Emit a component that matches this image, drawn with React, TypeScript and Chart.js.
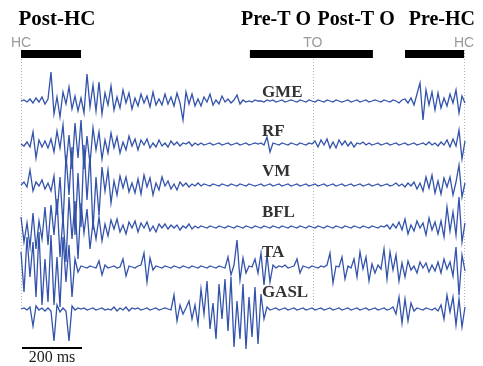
import { useEffect, useRef } from 'react';
import { Chart, registerables } from 'chart.js';

Chart.register(...registerables);

// ---------- data ----------
const SAMPLE_MS = 10; // one sample every 10 ms
const MUSCLES = ['GME', 'RF', 'VM', 'BFL', 'TA', 'GASL'];

// EMG deflections (arbitrary units, + = up), one value every 10 ms
const GME = [
  0, 1, -1, 2, -2, 3, -1, 4, -3, 2,
  29, -13, 4, -16, 9, -3, 14, -8, 5, -10,
  3, -12, 27, -6, 16, -10, 19, -13, 8, -4,
  15, -9, 4, -7, 11, -2, 8, -8, 3, -5,
  7, -2, 5, -6, 9, -4, 2, -4, 7, -3,
  4, -5, 8, -2, -19, 9, -3, 7, -5, 2,
  -5, 4, -1, 7, -4, 1, -3, 5, -1, 2,
  -2, 1, 6, -3, 1, -1, 0, -1, 1, 0,
  0, -1, 1, 0, 1, -1, 0, 1, -1, 0,
  1, 0, -1, 1, 0, -1, 1, 0, -1, 1,
  0, -1, 1, 0, -1, 1, 0, -1, 0, 1,
  -1, 0, 1, -1, 0, 1, -1, 0, 1, 0,
  -1, 1, 0, -1, 1, 0, -2, 1, 2, -2,
  3, -4, 7, 18, -19, 11, -4, 9, -9, 8,
  -7, 3, -5, 7, -2, 11, -12, 5, -2,
];
const RF = [
  0, -2, 2, -3, 12, -14, 4, -3, 3, -4,
  5, -8, 13, -4, 19, -22, 9, -25, 21, -14,
  24, -25, 8, -20, 16, -6, 12, -15, 4, -9,
  11, -4, 7, -9, 2, -6, 8, -2, 5, -6,
  4, -1, 5, -4, 1, -3, 4, -2, 1, -3,
  3, -1, 2, -2, 1, 0, 2, -2, 1, -1,
  1, -1, 0, 1, -1, 0, 1, -1, 0, 1,
  -1, 0, 1, -1, 0, 1, -1, 0, 1, 0,
  1, -1, 7, -8, 1, 0, -1, 1, 0, -1,
  1, 0, -1, 1, 0, -1, 1, 0, 3, -3,
  4, -1, 5, -4, 2, -4, 4, -1, 3, -2,
  2, -3, 1, 0, 2, -1, 1, -1, 0, 1,
  -1, 0, 1, -1, 0, 1, -1, 0, 1, -1,
  0, 1, -1, 0, 1, -1, 2, -1, 1, -2,
  2, -1, 4, -3, 5, -2, 14, -15, 3,
];
const VM = [
  0, 3, -2, 15, -6, 3, -1, 5, -4, 2,
  -6, 9, -30, 8, -40, 30, -10, 38, -50, 12,
  -42, 40, -15, 30, -45, 8, -30, 18, -6, 15,
  -18, 4, -10, 9, -3, 8, -7, 2, -8, 6,
  -9, 10, -2, 7, -10, 2, -5, 8, -1, 4,
  -4, 1, -5, 3, -1, 2, -2, 1, -1, 2,
  -1, 1, 0, -1, 1, 0, -1, 1, 0, -1,
  1, 0, -1, 1, 0, -1, 1, 0, -1, 0,
  1, -1, 0, 1, -1, 0, 1, -1, 0, 1,
  -1, 0, 1, -1, 0, 1, -1, 0, 1, -1,
  0, 1, -1, 0, 1, -1, 0, 1, -1, 0,
  1, -1, 0, 1, -1, 0, 1, -1, 0, 1,
  -1, 0, 1, -1, 0, 2, -1, 1, -2, 2,
  -1, 3, -4, 2, -6, 8, -3, 10, -8, 4,
  -9, 7, -2, 8, -10, 3, 20, -12, 2,
];
const BFL = [
  10, -15, 4, -20, 14, -22, 6, -12, 20, -18,
  22, -8, 28, -30, 10, -35, 30, -12, 26, -32,
  24, -6, 18, -22, 5, -12, 10, -14, 3, -9,
  7, -2, 8, -5, 2, -7, 5, -1, 6, -5,
  4, -1, 5, -4, 1, -5, 3, -1, 3, -2,
  2, -1, 2, -3, 1, -1, 3, -2, 1, -1,
  1, 0, -1, 1, 0, -1, 1, 0, -1, 1,
  0, -1, 1, 0, -1, 1, 0, -1, 1, 0,
  -1, 1, 0, -1, 1, 0, -1, 1, 0, -1,
  1, 0, -1, 1, 0, -1, 1, 0, -1, 1,
  0, -1, 1, 0, -1, 1, 0, -1, 1, 0,
  -1, 1, 0, -1, 1, 0, -1, 1, 0, -1,
  1, 0, 2, -2, 3, -1, 5, -3, 8, -7,
  2, -4, 6, -1, 4, -8, 9, -3, 5, -7,
  6, -10, 20, -4, 15, -8, 30, -15, 4,
];
const TA = [
  15, -25, 30, -10, 25, -30, 35, -38, 8, -35,
  32, -38, 10, -40, 30, -15, 22, -30, 8, -5,
  1, 0, -1, 1, 0, -1, 6, -8, 2, -1,
  0, 1, -1, 0, 8, -9, 1, 0, -1, 1,
  2, 14, -15, 9, -3, 1, 0, -1, 1, 0,
  -1, 1, 0, -1, 1, 0, -1, 1, 0, -1,
  1, 0, -1, 1, 0, -1, 1, 0, -1, 10,
  -8, 2, 27, -13, 9, -6, 1, 0, 8, -6,
  14, -18, 12, -15, 2, -1, 1, 0, 2, -1,
  0, 1, 8, -6, 1, 0, -1, 1, 0, -1,
  1, 0, 2, 14, -16, 1, 0, 10, -12, 1,
  -1, 8, -10, 15, -2, 10, -14, 3, -6, 2,
  -2, 18, -12, 15, -3, 12, -14, 4, -10, 6,
  -3, 1, -6, 5, -1, 4, -5, 2, -4, 5,
  -6, 8, -2, 5, -9, 20, -28, 12, -4,
];
const GASL = [
  0, 1, -1, 2, -17, 3, -1, 1, -2, 1,
  -2, -32, 4, -3, 1, -2, -32, 3, -1, 1,
  0, 1, -1, 0, 1, -1, 0, 1, -1, 0,
  -1, 2, -2, 1, -1, 2, -2, 1, 0, 1,
  -1, 0, 1, -1, 0, 1, -1, 0, 1, 0,
  -1, 14, -12, 4, -5, 1, 8, -10, 4, -15,
  20, -5, 28, -20, 6, -30, 25, -10, 30, -22,
  32, -38, 8, -30, 25, -40, 12, -28, 22, -35,
  15, -10, 2, -1, 0, 1, -1, 0, 1, -1,
  0, 1, -1, 0, 1, -1, 0, 1, -1, 0,
  1, -1, 0, 1, -1, 0, 1, -1, 0, 1,
  -1, 0, 1, -1, 0, 1, -1, 0, 1, -1,
  0, 1, -1, 0, 2, -5, 12, -14, 10, -12,
  6, -2, 1, 0, -1, 1, 0, -1, 1, -2,
  4, -10, 14, -3, 12, -16, 10, -18, 2,
];
const SERIES = [GME, RF, VM, BFL, TA, GASL];

const PHASES = ['Post-HC', 'Pre-T O', 'Post-T O', 'Pre-HC'];
const PHASE_BARS = [
  [0, 200],
  [763, 1173],
  [1280, 1477],
];
const EVENTS = ['HC', 'TO', 'HC'];
const EVENT_MS = [0, 973, 1477];
const SCALE_BAR_MS = 200;
const SCALE_BAR_LABEL = '200 ms';

// ---------- layout (value units of the y axis, 1 unit = 1 px) ----------
const Y_MAX = 366;
const TRACE_OFFSETS = [265, 222, 181, 139, 99, 57];
const LABEL_BASE = [269, 230, 190, 149, 109, 69];
const PHASE_TITLE_MS = [120, 850, 1117, 1403];
const PHASE_TITLE_SIZE = [21, 20, 20, 20];
const PHASE_TITLE_Y = 341;
const EVENT_LABEL_Y = 319;
const BAR_TOP = 316;
const BAR_BOTTOM = 308;
const EVENT_LINE_TOP = 316;
const EVENT_LINE_BOTTOM = 56;
const SCALE_BAR_Y = 18;
const SCALE_LABEL_Y = 4;
const LABEL_MS = 803;
const X_MIN = -70;
const X_MAX = 1540;

const TRACE_COLOR = '#3353ab';
const SERIF = '"Liberation Serif", "Times New Roman", serif';

const decorPlugin = {
  id: 'decor',
  beforeDatasetsDraw(chart: any) {
    const { ctx } = chart;
    const x = chart.scales.x;
    const y = chart.scales.y;
    ctx.save();
    ctx.strokeStyle = '#b4b4b4';
    ctx.lineWidth = 1;
    ctx.setLineDash([1, 2]);
    EVENT_MS.forEach((t) => {
      const px = Math.round(x.getPixelForValue(t)) + 0.5;
      ctx.beginPath();
      ctx.moveTo(px, y.getPixelForValue(EVENT_LINE_TOP));
      ctx.lineTo(px, y.getPixelForValue(EVENT_LINE_BOTTOM));
      ctx.stroke();
    });
    ctx.restore();
  },
  afterDatasetsDraw(chart: any) {
    const { ctx } = chart;
    const x = chart.scales.x;
    const y = chart.scales.y;
    ctx.save();
    ctx.fillStyle = '#000';
    PHASE_BARS.forEach(([a, b]) => {
      const x0 = x.getPixelForValue(a);
      const x1 = x.getPixelForValue(b);
      const y0 = y.getPixelForValue(BAR_TOP);
      const y1 = y.getPixelForValue(BAR_BOTTOM);
      ctx.fillRect(x0, y0, x1 - x0, y1 - y0);
    });
    ctx.textAlign = 'center';
    ctx.textBaseline = 'alphabetic';
    PHASES.forEach((p, i) => {
      ctx.font = `bold ${PHASE_TITLE_SIZE[i]}px ${SERIF}`;
      ctx.fillText(p, x.getPixelForValue(PHASE_TITLE_MS[i]), y.getPixelForValue(PHASE_TITLE_Y));
    });
    ctx.font = '14px "Liberation Sans", Arial, sans-serif';
    ctx.fillStyle = '#9a9a9a';
    EVENTS.forEach((e, i) => {
      ctx.fillText(e, x.getPixelForValue(EVENT_MS[i]), y.getPixelForValue(EVENT_LABEL_Y));
    });
    ctx.font = `bold 17px ${SERIF}`;
    ctx.fillStyle = '#333';
    ctx.textAlign = 'left';
    MUSCLES.forEach((m, i) => {
      ctx.fillText(m, x.getPixelForValue(LABEL_MS), y.getPixelForValue(LABEL_BASE[i]));
    });
    ctx.strokeStyle = '#000';
    ctx.lineWidth = 2;
    const sy = y.getPixelForValue(SCALE_BAR_Y);
    ctx.beginPath();
    ctx.moveTo(x.getPixelForValue(0) + 1, sy);
    ctx.lineTo(x.getPixelForValue(SCALE_BAR_MS) + 1, sy);
    ctx.stroke();
    ctx.font = `16px ${SERIF}`;
    ctx.fillStyle = '#222';
    ctx.textAlign = 'center';
    ctx.fillText(SCALE_BAR_LABEL, x.getPixelForValue(SCALE_BAR_MS / 2) + 1, y.getPixelForValue(SCALE_LABEL_Y));
    ctx.restore();
  },
};

export default function App() {
  const ref = useRef<HTMLCanvasElement | null>(null);
  useEffect(() => {
    if (!ref.current) return;
    const datasets = SERIES.map((s, k) => ({
      label: MUSCLES[k],
      data: s.map((v, i) => ({ x: i * SAMPLE_MS, y: TRACE_OFFSETS[k] + v })),
      borderColor: TRACE_COLOR,
      borderWidth: 1.3,
      pointRadius: 0,
      tension: 0,
      fill: false,
    }));
    const chart = new Chart(ref.current, {
      type: 'line',
      data: { datasets },
      options: {
        animation: false,
        responsive: false,
        devicePixelRatio: 1,
        layout: { padding: 0 },
        plugins: { legend: { display: false }, tooltip: { enabled: false }, title: { display: false } },
        scales: {
          x: { type: 'linear', min: X_MIN, max: X_MAX, display: false },
          y: { type: 'linear', min: 0, max: Y_MAX, display: false },
        },
      },
      plugins: [decorPlugin],
    });
    return () => chart.destroy();
  }, []);
  return (
    <div style={{ position: 'fixed', left: 0, top: 0, width: 483, height: 366, background: '#fff' }}>
      <canvas ref={ref} width={483} height={366} style={{ display: 'block' }} />
    </div>
  );
}
